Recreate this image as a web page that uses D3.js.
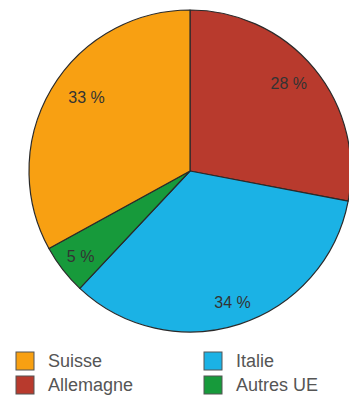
<!DOCTYPE html>
<html>
<head>
<meta charset="utf-8">
<script src="https://cdn.jsdelivr.net/npm/d3@7"></script>
<style>
  html, body { margin: 0; padding: 0; background: #fff; }
  svg { display: block; }
</style>
</head>
<body>
<svg id="chart" width="349" height="396"></svg>
<script>
// Répartition par pays (en %), dans l'ordre des aiguilles d'une montre depuis midi
const categories = ["Allemagne", "Italie", "Autres UE", "Suisse"];
const values = [28, 34, 5, 33];
const colors = ["#B83A2D", "#1BB2E5", "#179A3B", "#F8A012"];

// Légende : deux colonnes
const legendOrder = ["Suisse", "Allemagne", "Italie", "Autres UE"];

const svg = d3.select("#chart");
const cx = 190, cy = 171, r = 161;

const pie = d3.pie().sort(null).value(d => d.value);
const data = categories.map((c, i) => ({ name: c, value: values[i], color: colors[i] }));
const arcs = pie(data);

const arc = d3.arc().innerRadius(0).outerRadius(r);
const g = svg.append("g").attr("transform", `translate(${cx},${cy})`);

g.selectAll("path.slice")
  .data(arcs)
  .join("path")
  .attr("class", "slice")
  .attr("d", arc)
  .attr("fill", d => d.data.color)
  .attr("stroke", "#2a2a2a")
  .attr("stroke-width", 1.2)
  .attr("stroke-linejoin", "round");

// Placement des étiquettes : fraction du rayon et décalage angulaire (degrés)
const labelPlace = {
  "Allemagne": { k: 0.82, shift: -2 },
  "Italie":    { k: 0.855, shift: 0 },
  "Autres UE": { k: 0.86, shift: 0 },
  "Suisse":    { k: 0.79, shift: 5 }
};
g.selectAll("text.pct")
  .data(arcs)
  .join("text")
  .attr("class", "pct")
  .attr("transform", d => {
    const p = labelPlace[d.data.name];
    const a = (d.startAngle + d.endAngle) / 2 + p.shift * Math.PI / 180;
    const rr = r * p.k;
    return `translate(${Math.sin(a) * rr},${-Math.cos(a) * rr})`;
  })
  .attr("text-anchor", "middle")
  .attr("dy", "0.36em")
  .attr("font-family", "Liberation Sans, Arial, sans-serif")
  .attr("font-size", 16)
  .attr("fill", "#333")
  .text(d => d.data.value + " %");

// Légende
const legend = svg.append("g");
const items = legendOrder.map((name, i) => ({
  name,
  color: colors[categories.indexOf(name)],
  col: Math.floor(i / 2),
  row: i % 2
}));
const colX = [16, 204], rowY = [352, 376], sq = 18;

const li = legend.selectAll("g.item")
  .data(items)
  .join("g")
  .attr("class", "item")
  .attr("transform", d => `translate(${colX[d.col]},${rowY[d.row]})`);

li.append("rect")
  .attr("width", sq)
  .attr("height", sq)
  .attr("fill", d => d.color)
  .attr("stroke", "#555")
  .attr("stroke-width", 1);

li.append("text")
  .attr("x", 32)
  .attr("y", sq / 2)
  .attr("dy", "0.36em")
  .attr("font-family", "Liberation Sans, Arial, sans-serif")
  .attr("font-size", 18)
  .attr("fill", "#555")
  .text(d => d.name);
</script>
</body>
</html>
